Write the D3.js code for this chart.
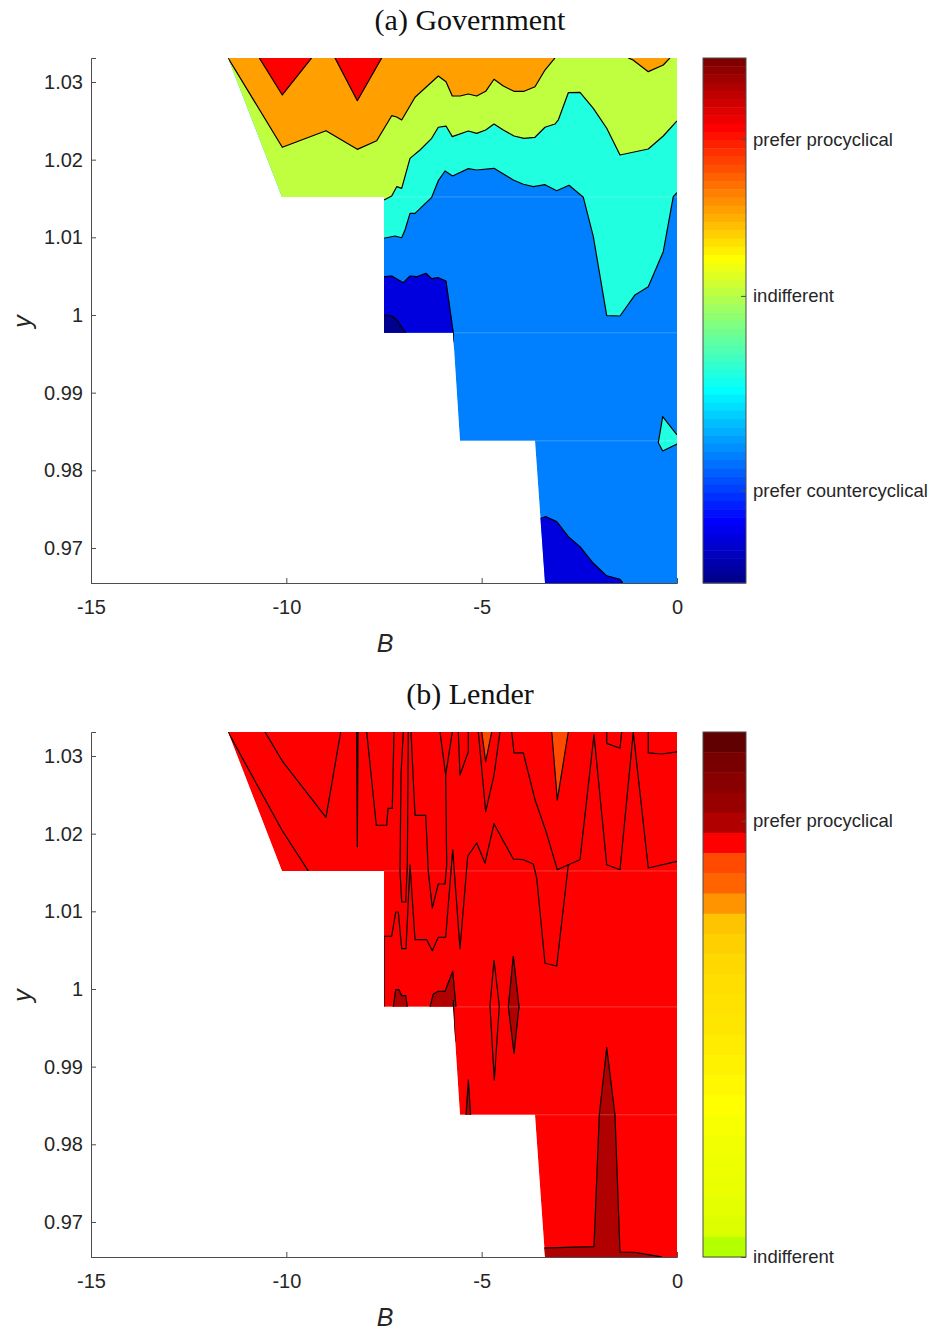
<!DOCTYPE html>
<html>
<head>
<meta charset="utf-8">
<script src="https://cdn.jsdelivr.net/npm/d3@7"></script>
<style>
  body { margin: 0; background: #fff; }
  .tick-label { font-family: "Liberation Sans", Arial, sans-serif; font-size: 20px; fill: #262626; }
  .cbar-label { font-family: "Liberation Sans", Arial, sans-serif; font-size: 18.5px; fill: #262626; }
  .axis-label { font-family: "Liberation Sans", Arial, sans-serif; font-size: 25px; font-style: italic; fill: #262626; }
  .panel-title { font-family: "Liberation Serif", "DejaVu Serif", serif; font-size: 30px; fill: #111; }
</style>
</head>
<body>
<div id="chart"></div>
<script>
// ------------------------------------------------------------
// data: every point is [B, y]
// ------------------------------------------------------------
const xTicks = [-15, -10, -5, 0];
const yTicks = [0.97, 0.98, 0.99, 1, 1.01, 1.02, 1.03];
const xDomain = [-15, 0];
const yDomain = [0.96549, 1.03309];

// outline of the region where the model has a solution
const solvedRegion = [[-11.493, 1.0331], [0, 1.0331], [0, 0.9655], [-3.379, 0.9655], [-3.635, 0.9838],
  [-5.555, 0.9838], [-5.734, 0.9977], [-7.5, 0.9977], [-7.5, 1.0152], [-10.111, 1.0152]];
// grid rows where the patches meet
const gridRows = [[-7.5, 1.0152], [-5.734, 0.9977], [-3.635, 0.9838]];

// (a) Government
const govOrangeEdge = [[-11.493, 1.0331], [-10.103, 1.02159], [-8.985, 1.02373], [-8.183, 1.02133], [-7.687, 1.02244],
  [-7.303, 1.02566], [-7.175, 1.02549], [-7.047, 1.02511], [-6.706, 1.02803], [-6.110, 1.03077], [-5.913, 1.03004],
  [-5.752, 1.0282], [-5.555, 1.0282], [-5.342, 1.02845], [-5.127, 1.0282], [-4.897, 1.0288], [-4.684, 1.03035],
  [-4.446, 1.02948], [-4.172, 1.0288], [-3.916, 1.0288], [-3.635, 1.02939], [-3.379, 1.03154], [-3.123, 1.0331]];
const govOrangeCorner = [[-1.247, 1.0331], [-1.126, 1.03283], [-0.735, 1.03133], [-0.351, 1.03219], [-0.179, 1.0331]];
const govRedPeakA = [[-10.692, 1.0331], [-10.103, 1.02833], [-9.351, 1.0331]];
const govRedPeakB = [[-8.754, 1.0331], [-8.183, 1.02759], [-7.559, 1.0331]];
const govGreenEdge = [[-7.5, 1.01481], [-7.303, 1.01532], [-7.175, 1.01652], [-7.047, 1.01631], [-6.834, 1.02017],
  [-6.578, 1.02124], [-6.279, 1.02275], [-6.110, 1.02417], [-5.913, 1.02433], [-5.752, 1.02296], [-5.342, 1.02369],
  [-5.127, 1.02339], [-4.897, 1.02382], [-4.684, 1.02459], [-4.446, 1.02382], [-4.172, 1.02305], [-3.916, 1.02275],
  [-3.635, 1.02288], [-3.379, 1.02417], [-3.123, 1.02459], [-3.038, 1.02511], [-2.782, 1.02862], [-2.483, 1.02867],
  [-2.142, 1.02661], [-1.799, 1.02404], [-1.459, 1.0206], [-0.735, 1.02137], [-0.351, 1.02305], [0, 1.02498]];
const govCyanEdge = [[-7.5, 1.00988], [-7.218, 1.01017], [-7.047, 1.00995], [-6.962, 1.01094], [-6.834, 1.01309],
  [-6.706, 1.01309], [-6.279, 1.01515], [-6.110, 1.01729], [-5.938, 1.01854], [-5.744, 1.0179], [-5.342, 1.01884],
  [-5.127, 1.01867], [-4.684, 1.01889], [-4.190, 1.01738], [-3.934, 1.01683], [-3.678, 1.01652], [-3.379, 1.01678],
  [-3.079, 1.016], [-2.764, 1.0167], [-2.398, 1.01515], [-2.142, 1.01008], [-1.799, 0.99991], [-1.459, 0.99987],
  [-1.075, 1.00258], [-0.735, 1.00364], [-0.351, 1.00815], [-0.095, 1.01523], [0, 1.01575]];
const govDeepBlueEdge = [[-7.5, 1.00493], [-7.303, 1.00502], [-7.006, 1.00416], [-6.834, 1.00502], [-6.663, 1.00493],
  [-6.425, 1.00537], [-6.279, 1.00467], [-6.110, 1.0048], [-5.913, 1.00438], [-5.726, 0.99768], [-5.726, 0.99656]];
const govNavyEdge = [[-7.5, 1.0], [-7.303, 0.99987], [-7.175, 0.99936], [-6.944, 0.99768]];
const govDeepBlueLow = [[-3.489, 0.97383], [-3.353, 0.97403], [-3.079, 0.97339], [-2.782, 0.97146], [-2.483, 0.97017],
  [-2.142, 0.96803], [-1.799, 0.9664], [-1.459, 0.96597], [-1.39, 0.9655]];
const govCyanIsland = [[0, 0.98455], [-0.366, 0.98691], [-0.479, 0.98356], [-0.366, 0.98249], [0, 0.98339]];

// (b) Lender
const lenLineA = [[-11.493, 1.0331], [-10.103, 1.02038], [-9.438, 1.0152]];
const lenLineB = [[-10.546, 1.0331], [-10.103, 1.02935], [-8.985, 1.02211], [-8.608, 1.0331]];
const lenLineC = [[-8.199, 1.0331], [-8.183, 1.01832], [-8.165, 1.0331]];
const lenLineD = [[-7.943, 1.0331], [-7.697, 1.02108], [-7.431, 1.02108], [-7.398, 1.02326], [-7.288, 1.02326], [-7.244, 1.0331]];
const lenLineE = [[-7.006, 1.0331], [-7.065, 1.02755], [-7.09, 1.01515], [-7.047, 1.0112], [-6.944, 1.0112], [-6.903, 1.016], [-6.878, 1.0331]];
const lenLineF = [[-6.809, 1.0331], [-6.706, 1.02236], [-6.432, 1.02236], [-6.366, 1.01515], [-6.264, 1.01043],
  [-6.110, 1.01352], [-5.938, 1.01352], [-5.895, 1.016], [-5.921, 1.02755], [-6.066, 1.0331]];
const lenLineG = [[-5.921, 1.02755], [-5.752, 1.0331]];
const lenLineH = [[-5.598, 1.0331], [-5.555, 1.02755], [-5.342, 1.03055], [-5.342, 1.0331]];
const lenLineI = [[-5.086, 1.0331], [-4.897, 1.02283], [-4.684, 1.02755], [-4.531, 1.0331]];
const lenLineJ = [[-4.231, 1.0331], [-4.172, 1.03039], [-3.934, 1.03039], [-3.635, 1.02437], [-3.353, 1.0203],
  [-3.064, 1.01536], [-2.782, 1.016], [-2.483, 1.01665], [-2.125, 1.03274], [-1.799, 1.016], [-1.459, 1.01536],
  [-1.119, 1.03305], [-0.735, 1.01558], [0, 1.01644]];
const lenLineK = [[-0.735, 1.0331], [-0.735, 1.03039], [-0.392, 1.03026], [0, 1.03052]];
const lenLineL = [[-1.799, 1.0331], [-1.799, 1.03163], [-1.459, 1.03099], [-1.416, 1.0331]];
const lenLineM = [[-7.5, 0.9977], [-7.5, 1.00679], [-7.303, 1.00679], [-7.2, 1.00991], [-7.134, 1.00991], [-7.047, 1.00519],
  [-6.937, 1.00519], [-6.834, 1.016], [-6.706, 1.00635], [-6.407, 1.00635], [-6.264, 1.00493], [-6.110, 1.00666],
  [-5.921, 1.00666], [-5.741, 1.01793], [-5.555, 1.00519], [-5.357, 1.01709], [-5.127, 1.0188], [-4.915, 1.01622],
  [-4.684, 1.02128], [-4.446, 1.01906], [-4.190, 1.01674], [-3.934, 1.01665], [-3.678, 1.01609], [-3.591, 1.01429],
  [-3.379, 1.00331], [-3.079, 1.00296], [-2.782, 1.016]];
const lenLoop = [[-4.684, 1.00373], [-4.787, 0.99781], [-4.677, 0.98828], [-4.549, 0.99781], [-4.684, 1.00373]];
const lenEdge = [[-5.726, 0.99858], [-5.683, 0.99321]];
const lenOrangeA = [[-4.999, 1.0331], [-4.897, 1.02926], [-4.743, 1.0331]];
const lenOrangeB = [[-3.207, 1.0331], [-3.064, 1.02433], [-2.782, 1.0331]];
const lenDarkA = [[-7.262, 0.9977], [-7.2, 0.99991], [-7.116, 0.99991], [-7.047, 0.99914], [-6.944, 0.99914], [-6.903, 0.9977]];
const lenDarkB = [[-6.322, 0.9977], [-6.238, 0.99936], [-6.110, 0.9997], [-5.938, 0.9997], [-5.741, 1.00228], [-5.657, 0.9977]];
const lenDarkC = [[-4.190, 1.00425], [-4.318, 0.99772], [-4.172, 0.99172], [-4.044, 0.99772], [-4.190, 1.00425]];
const lenDarkD = [[-5.401, 0.9836], [-5.342, 0.98828], [-5.281, 0.9836]];
const lenDarkE = [[-3.507, 0.96662], [-2.125, 0.96682], [-1.989, 0.98378], [-1.799, 0.99244], [-1.587, 0.98378],
  [-1.459, 0.9661], [-1.101, 0.9661], [-0.392, 0.9655]];

// colour bars
const govCbarTicks = [11.3, 35.0, 54.1];               // position on the 64-step jet scale
const govCbarLabels = ["prefer countercyclical", "indifferent", "prefer procyclical"];
const lenderBands = ["#600000", "#780000", "#880000", "#980000", "#b00000", "#ff0000", "#ff4a00", "#ff6400",
  "#ff9400", "#ffc400", "#ffd000", "#ffd800", "#ffde00", "#ffe200", "#ffe600", "#ffec00", "#fff200", "#fff800",
  "#ffff00", "#f8ff00", "#f2ff00", "#eeff00", "#eaff00", "#e4ff00", "#dcff00", "#b4ff00"];
const lenCbarTicks = [0, 21.6];
const lenCbarLabels = ["indifferent", "prefer procyclical"];

// ------------------------------------------------------------
// MATLAB jet colormap
function jet(k, m = 64) {
  const n = Math.ceil(m / 4);
  const u = j => (j < 1 || j > 3 * n - 1) ? 0 : (j <= n ? j / n : (j < 2 * n ? 1 : (3 * n - j) / n));
  const off = Math.ceil(n / 2) - (m % 4 === 1 ? 1 : 0);
  const c = v => Math.round(255 * v);
  return d3.rgb(c(u(k - off - n)), c(u(k - off)), c(u(k - off + n))).formatHex();
}

const W = 934, H = 1332;
const svg = d3.select("#chart").append("svg").attr("width", W).attr("height", H);

const plot = { left: 91, right: 677, height: 525 };
const cbar = { left: 703, width: 43 };

const govFills = [
  { pts: solvedRegion, cap: "none", color: jet(16) },
  { pts: govCyanEdge, cap: "up", color: jet(26) },
  { pts: govGreenEdge, cap: "up", color: jet(36) },
  { pts: govOrangeEdge, cap: "none", color: jet(46) },
  { pts: govOrangeCorner, cap: "none", color: jet(46) },
  { pts: govRedPeakA, cap: "none", color: jet(56) },
  { pts: govRedPeakB, cap: "none", color: jet(56) },
  { pts: govDeepBlueEdge, cap: "down", color: jet(6) },
  { pts: govNavyEdge, cap: "down", color: jet(1) },
  { pts: govDeepBlueLow, cap: "down", color: jet(6) },
  { pts: govCyanIsland, cap: "none", color: jet(26) }
];
const govLines = [govOrangeEdge, govOrangeCorner, govRedPeakA, govRedPeakB, govGreenEdge, govCyanEdge,
  govDeepBlueEdge, govNavyEdge, govDeepBlueLow, govCyanIsland];

const lenFills = [
  { pts: solvedRegion, cap: "none", color: lenderBands[5] },
  { pts: lenOrangeA, cap: "none", color: lenderBands[6] },
  { pts: lenOrangeB, cap: "none", color: lenderBands[6] },
  { pts: lenDarkA, cap: "none", color: lenderBands[4] },
  { pts: lenDarkB, cap: "none", color: lenderBands[4] },
  { pts: lenDarkC, cap: "none", color: lenderBands[4] },
  { pts: lenDarkD, cap: "none", color: lenderBands[4] },
  { pts: lenDarkE, cap: "down", color: lenderBands[4] }
];
const lenLines = [lenLineA, lenLineB, lenLineC, lenLineD, lenLineE, lenLineF, lenLineG, lenLineH, lenLineI,
  lenLineJ, lenLineK, lenLineL, lenLineM, lenLoop, lenEdge, lenOrangeA, lenOrangeB, lenDarkA, lenDarkB,
  lenDarkC, lenDarkD, lenDarkE];

const govCbarColors = d3.range(1, 65).map(k => jet(k)).reverse();   // top to bottom

drawPanel({ top: 58, id: "gov", title: "(a) Government", fills: govFills, lines: govLines,
  bands: govCbarColors, cbarTicks: govCbarTicks, cbarLabels: govCbarLabels });
drawPanel({ top: 732, id: "len", title: "(b) Lender", fills: lenFills, lines: lenLines,
  bands: lenderBands, cbarTicks: lenCbarTicks, cbarLabels: lenCbarLabels });

function drawPanel(p) {
  const bottom = p.top + plot.height;
  const x = d3.scaleLinear().domain(xDomain).range([plot.left, plot.right]);
  const y = d3.scaleLinear().domain(yDomain).range([bottom, p.top]);
  const line = d3.line().x(d => x(d[0])).y(d => y(d[1]));

  svg.append("text")
    .attr("class", "panel-title")
    .attr("x", 470).attr("y", p.top - 28)
    .attr("text-anchor", "middle")
    .text(p.title);

  // clip to the solved region
  svg.append("clipPath").attr("id", `clip-${p.id}`)
    .append("path").attr("d", line(solvedRegion) + "Z");

  const g = svg.append("g").attr("clip-path", `url(#clip-${p.id})`);

  // filled contour bands, painted in order
  const capped = (pts, cap) => {
    const first = pts[0], last = pts[pts.length - 1];
    if (cap === "up") return pts.concat([[last[0] + 0.5, 1.05], [-16, 1.05], [-16, first[1]]]);
    if (cap === "down") return pts.concat([[last[0], 0.95], [-16, 0.95], [-16, first[1]]]);
    return pts;
  };
  g.selectAll("path.band")
    .data(p.fills)
    .join("path")
    .attr("class", "band")
    .attr("d", d => line(capped(d.pts, d.cap)) + "Z")
    .attr("fill", d => d.color)
    .attr("stroke", d => d.color)
    .attr("stroke-width", 0.4);

  // faint seams between the patches
  g.selectAll("line.seam")
    .data(gridRows)
    .join("line")
    .attr("class", "seam")
    .attr("x1", d => x(d[0])).attr("x2", x(0))
    .attr("y1", d => y(d[1])).attr("y2", d => y(d[1]))
    .attr("stroke", "#fff").attr("stroke-opacity", 0.22).attr("stroke-width", 1);

  // contour lines
  g.selectAll("path.contour")
    .data(p.lines)
    .join("path")
    .attr("class", "contour")
    .attr("d", d => line(d))
    .attr("fill", "none")
    .attr("stroke", "#000")
    .attr("stroke-width", 1.2)
    .attr("stroke-linejoin", "round");

  // axes (left and bottom only, ticks inward)
  const axisColor = "#4d4d4d";
  const xAxis = svg.append("g").attr("transform", `translate(0,${bottom})`)
    .call(d3.axisBottom(x).tickValues(xTicks).tickSize(-5).tickFormat(d => String(d)));
  const yAxis = svg.append("g").attr("transform", `translate(${plot.left},0)`)
    .call(d3.axisLeft(y).tickValues(yTicks).tickSize(-5).tickFormat(d => d === 1 ? "1" : d.toFixed(2)));
  [xAxis, yAxis].forEach(a => {
    a.select(".domain").attr("stroke", axisColor).attr("stroke-width", 1);
    a.selectAll(".tick line").attr("stroke", axisColor);
    a.selectAll(".tick text").attr("class", "tick-label").attr("font-size", null).attr("font-family", null).attr("fill", null);
  });
  xAxis.selectAll(".tick text").attr("y", 17).attr("dy", "0.71em");
  yAxis.selectAll(".tick text").attr("x", -8);

  svg.append("text").attr("class", "axis-label")
    .attr("x", 385).attr("y", bottom + 69)
    .attr("text-anchor", "middle").text("B");
  svg.append("text").attr("class", "axis-label")
    .attr("transform", `translate(31,${(p.top + bottom) / 2 + 1}) rotate(-90)`)
    .attr("text-anchor", "middle").text("y");

  // colour bar
  const band = d3.scaleBand().domain(d3.range(p.bands.length)).range([p.top, bottom]);
  svg.append("g").selectAll("rect")
    .data(p.bands)
    .join("rect")
    .attr("x", cbar.left).attr("width", cbar.width)
    .attr("y", (d, i) => band(i)).attr("height", band.bandwidth() + 0.5)
    .attr("fill", d => d);
  svg.append("rect")
    .attr("x", cbar.left).attr("y", p.top).attr("width", cbar.width).attr("height", plot.height)
    .attr("fill", "none").attr("stroke", axisColor).attr("stroke-width", 1);

  const cy = d3.scaleLinear().domain([0, p.bands.length]).range([bottom, p.top]);
  const cbarAxis = svg.append("g").attr("transform", `translate(${cbar.left + cbar.width},0)`)
    .call(d3.axisRight(cy).tickValues(p.cbarTicks).tickSize(-5).tickPadding(8)
      .tickFormat((d, i) => p.cbarLabels[i]));
  cbarAxis.select(".domain").remove();
  cbarAxis.selectAll(".tick line").attr("stroke", axisColor);
  cbarAxis.selectAll(".tick text").attr("class", "cbar-label").attr("font-size", null).attr("font-family", null).attr("fill", null)
    .attr("x", 7);
}
</script>
</body>
</html>
